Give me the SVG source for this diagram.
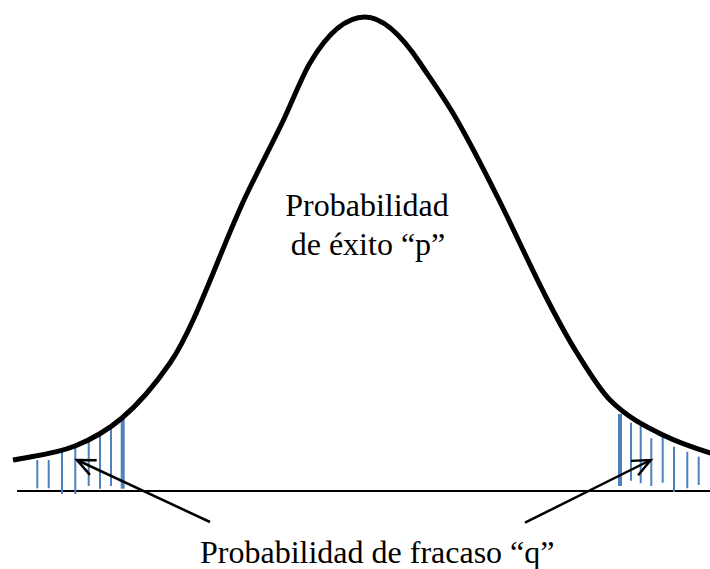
<svg xmlns="http://www.w3.org/2000/svg" width="710" height="569" viewBox="0 0 710 569">
<style>
.lbl{font-family:"Liberation Serif","Times New Roman",serif;font-size:32px;fill:#000}
.hatch{stroke:#4F81BD;stroke-width:2;fill:none}
.hatch-thick{stroke:#4F81BD;stroke-width:4;fill:none}
.conn{stroke:#000;stroke-width:2.5;fill:none}
</style>
<defs>
<marker id="openArrow" markerUnits="userSpaceOnUse" viewBox="-22 -12 26 24" markerWidth="26" markerHeight="24" refX="0" refY="0" orient="auto" overflow="visible">
<path d="M-18,-8 L0,0 L-18,8" fill="none" stroke="#000" stroke-width="2.5" stroke-linejoin="miter"/>
</marker>
</defs>
<rect width="710" height="569" fill="#fff"/>
<g id="axis">
<line x1="17" y1="491" x2="710" y2="491" stroke="#000" stroke-width="2"/>
</g>
<g id="left-tail">
<line class="hatch" x1="37.3" y1="460" x2="37.3" y2="488.3"/>
<line class="hatch" x1="48.7" y1="460" x2="48.7" y2="488.3"/>
<line class="hatch" x1="62" y1="449.3" x2="62" y2="494"/>
<line class="hatch" x1="75.3" y1="443.3" x2="75.3" y2="494"/>
<line class="hatch" x1="88.7" y1="438.7" x2="88.7" y2="486"/>
<line class="hatch" x1="100" y1="430.7" x2="100" y2="488.7"/>
<line class="hatch" x1="111" y1="427.3" x2="111" y2="486"/>
<line class="hatch-thick" x1="122.7" y1="417.3" x2="122.7" y2="488.7"/>
</g>
<g id="right-tail">
<line class="hatch-thick" x1="620" y1="414" x2="620" y2="486"/>
<line class="hatch" x1="631" y1="422.7" x2="631" y2="480.7"/>
<line class="hatch" x1="640.7" y1="425" x2="640.7" y2="483.3"/>
<line class="hatch" x1="651.3" y1="438.3" x2="651.3" y2="486"/>
<line class="hatch" x1="662.7" y1="435" x2="662.7" y2="482.7"/>
<line class="hatch" x1="674" y1="446.7" x2="674" y2="491.7"/>
<line class="hatch" x1="687.3" y1="451.7" x2="687.3" y2="488.3"/>
<line class="hatch" x1="698.7" y1="456.7" x2="698.7" y2="485"/>
</g>
<g id="curve">
<path d="M13,460 C33.67,455.87 54.33,454.27 75,446 C90.67,439.73 106.33,431.32 122,418 C138,404.4 154,386.2 170,363 C194.67,327.2 219.33,253 244,200 C257.17,171.7 270.33,147.7 283.5,120 C292.33,101.45 301.17,78 310,63 C328.33,31.8 346.67,17 365,17 C383.33,17 401.67,35.5 420,63 C432.33,81.5 444.67,98.4 457,120 C470.67,143.9 484.33,170.7 498,198 C514,230 530,265.8 546,297 C556.33,317.1 566.67,336.5 577,353 C588,370.6 599,389 610,400 C627.67,417.7 645.33,426.2 663,435 C678.67,442.8 694.33,448 712,453.5" fill="none" stroke="#000" stroke-width="5"/>
</g>
<g id="label-p">
<text class="lbl" x="367" y="216" text-anchor="middle">Probabilidad</text>
<text class="lbl" x="368" y="255" text-anchor="middle">de éxito “p”</text>
</g>
<g id="label-q">
<text class="lbl" x="200" y="563">Probabilidad de fracaso “q”</text>
</g>
<g id="connectors">
<line class="conn" x1="210" y1="522" x2="77" y2="460" marker-end="url(#openArrow)"/>
<line class="conn" x1="525" y1="522.7" x2="650.7" y2="460" marker-end="url(#openArrow)"/>
</g>
</svg>
